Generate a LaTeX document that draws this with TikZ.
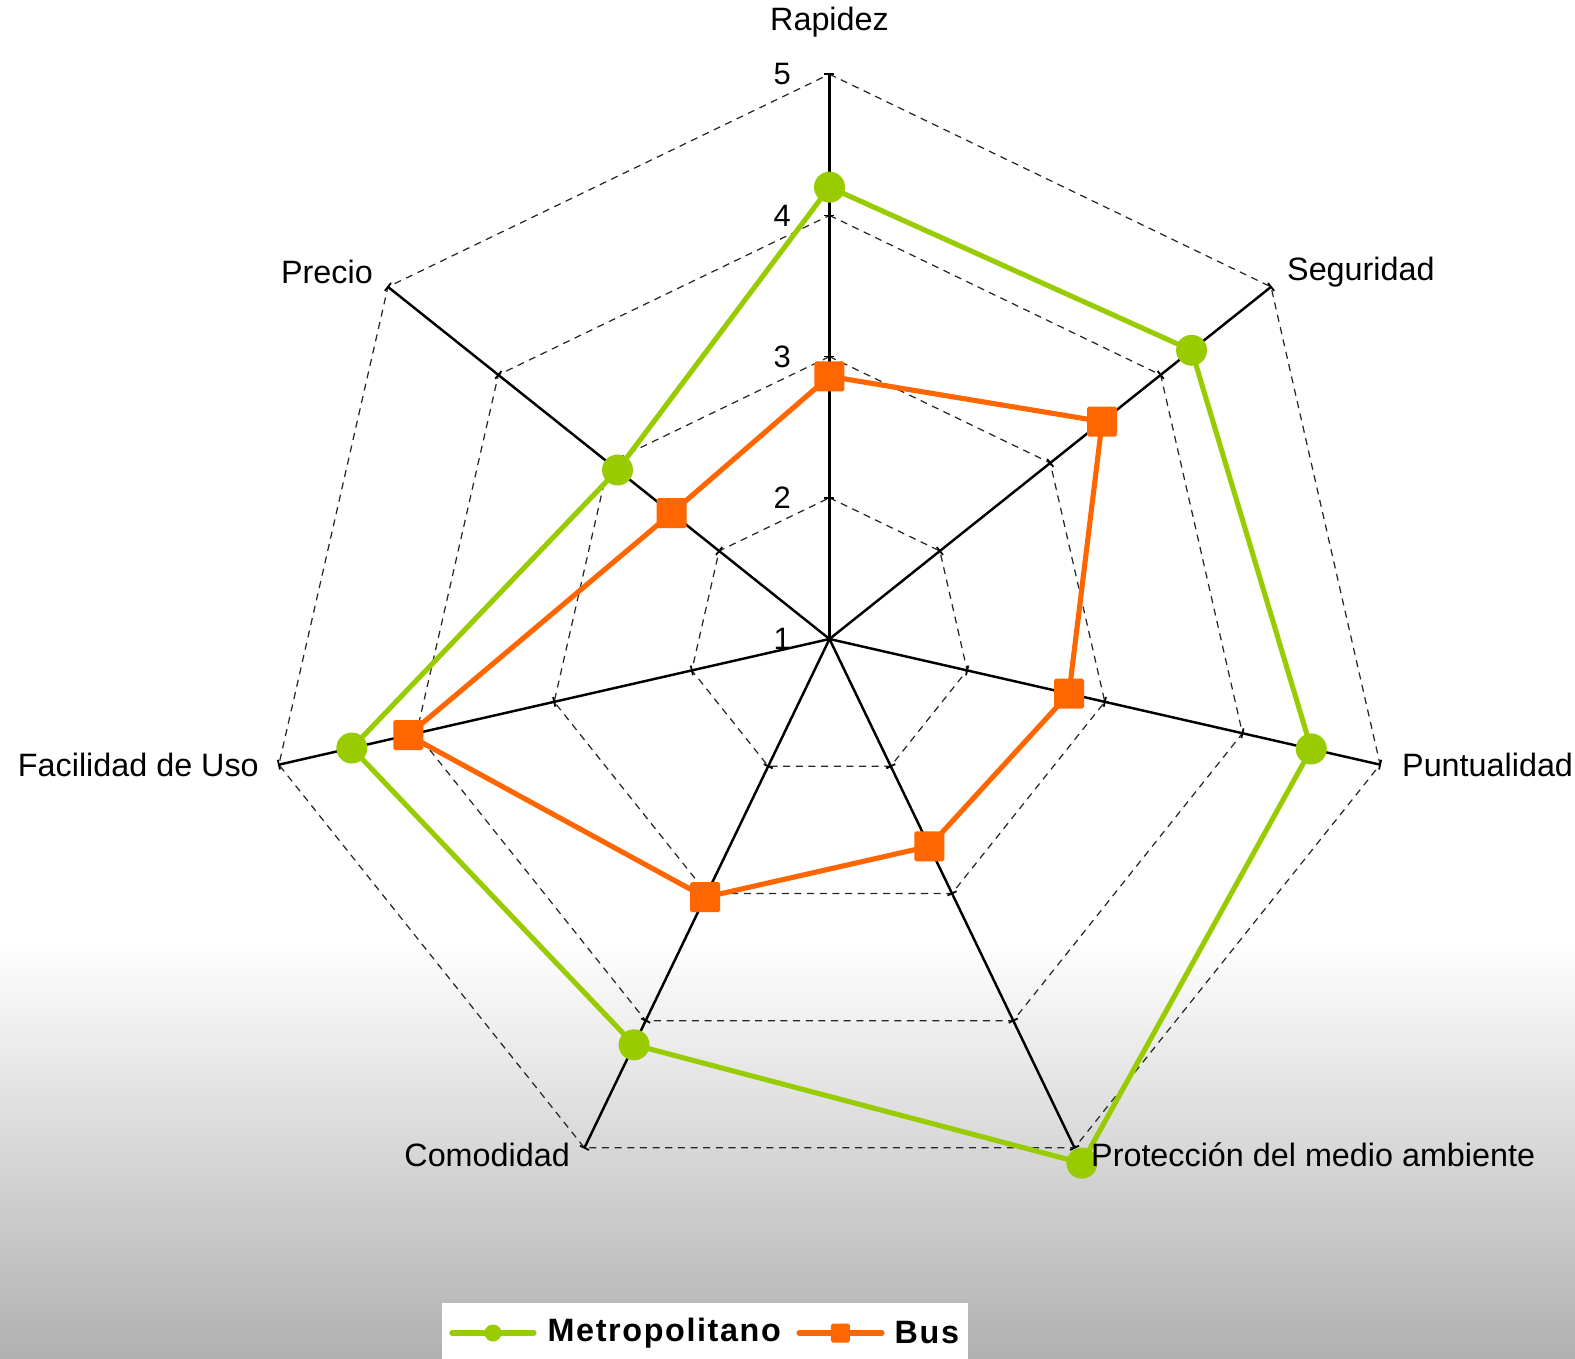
\documentclass[tikz,border=0pt]{standalone}
\usepackage{fontspec}
\setmainfont{Liberation Sans}
\usetikzlibrary{positioning}
\definecolor{metrogreen}{RGB}{153,204,0}
\definecolor{busorange}{RGB}{255,102,0}
\definecolor{bggray}{RGB}{176,176,176}

\begin{document}
\begin{tikzpicture}[
        font=\fontsize{9.2}{11}\selectfont,
        spoke/.style={line width=0.7pt, black},
        gridline/.style={line width=0.35pt, black!85, dash pattern=on 2pt off 1.6pt},
        lbl/.style={inner sep=0pt},
        ticklbl/.style={inner sep=0pt, font=\fontsize{8.8}{10}\selectfont},
        metroline/.style={line width=1.45pt, metrogreen, line join=round},
        busline/.style={line width=1.45pt, busorange, line join=round},
        metromark/.style={circle, fill=metrogreen, minimum size=3.1mm, inner sep=0pt},
        busmark/.style={rectangle, fill=busorange, minimum size=3.0mm, inner sep=0pt, rounded corners=0.5pt},
        legendtext/.style={font=\fontsize{9.2}{11}\selectfont\bfseries\addfontfeatures{LetterSpace=5}, inner sep=0pt}
    ]

    % background
    \fill[white] (-8.295,-7.20) rectangle (7.455,6.39);
    \shade[top color=white, bottom color=bggray] (-8.295,-7.20) rectangle (7.455,-3.01);
    \useasboundingbox (-8.295,-7.20) rectangle (7.455,6.39);

    \coordinate (c) at (0,0);

    % grid
    \foreach \v in {2,3,4,5} {
        \draw[gridline] (90:{(\v-1)*1.412}) \foreach \k in {1,...,6} { -- ({90-\k*360/7}:{(\v-1)*1.412}) } -- cycle;
    }

    % axes
    \foreach \k in {0,...,6} {
        \coordinate (a\k) at ({90-\k*360/7}:5.65);
        \draw[spoke] (c) -- (a\k);
        \foreach \v in {2,3,4,5}
            \draw[spoke, line width=0.5pt] ([shift={({180-\k*360/7}:0.05)}]{90-\k*360/7}:{(\v-1)*1.412}) -- ([shift={({-\k*360/7}:0.05)}]{90-\k*360/7}:{(\v-1)*1.412});
    }

    % tick labels
    \foreach \v in {1,...,5}
        \node[ticklbl, anchor=east] (t\v) at (-0.38,{(\v-1)*1.412}) {\v};

    % Metropolitano
    \foreach \val [count=\k from 0] in {4.2,4.28,4.5,5.12,4.19,4.47,2.92}
        \coordinate (m\k) at ({90-\k*360/7}:{(\val-1)*1.412});
    \draw[metroline] (m0) -- (m1) -- (m2) -- (m3) -- (m4) -- (m5) -- (m6) -- cycle;
    \foreach \k in {0,...,6}
        \node[metromark] (mm\k) at (m\k) {};

    % Bus
    \foreach \val [count=\k from 0] in {2.86,3.47,2.74,2.63,3.03,4.06,2.43}
        \coordinate (b\k) at ({90-\k*360/7}:{(\val-1)*1.412});
    \draw[busline] (b0) -- (b1) -- (b2) -- (b3) -- (b4) -- (b5) -- (b6) -- cycle;
    \foreach \k in {0,...,6}
        \node[busmark] (bm\k) at (b\k) {};

    % axis labels
    \node[lbl] (lRap) at (0,6.17) {Rapidez};
    \node[lbl, anchor=west] (lSeg) at (4.57,3.67) {Seguridad};
    \node[lbl, anchor=west] (lPun) at (5.72,-1.26) {Puntualidad};
    \node[lbl, anchor=west] (lPro) at (2.61,-5.16) {Protección del medio ambiente};
    \node[lbl, anchor=east] (lCom) at (-2.59,-5.16) {Comodidad};
    \node[lbl, anchor=east] (lFac) at (-5.70,-1.26) {Facilidad de Uso};
    \node[lbl, anchor=east] (lPre) at (-4.56,3.67) {Precio};

    % legend
    \fill[white] (-3.875,-7.20) rectangle (1.385,-6.64);
    \coordinate (lg1) at (-3.775,-6.94);
    \coordinate (lg2) at (-2.955,-6.94);
    \draw[metroline, line cap=round] (lg1) -- (lg2);
    \path (lg1) -- (lg2) node[metromark, minimum size=1.7mm, midway] (lgm) {};
    \node[legendtext, right=0.13 of lg2] (lgtm) {Metropolitano};
    \coordinate (lg3) at (-0.305,-6.94);
    \coordinate (lg4) at (0.525,-6.94);
    \draw[busline, line cap=round] (lg3) -- (lg4);
    \path (lg3) -- (lg4) node[busmark, minimum size=1.9mm, midway] (lgb) {};
    \node[legendtext, right=0.12 of lg4] (lgtb) {Bus};

\end{tikzpicture}
\end{document}
